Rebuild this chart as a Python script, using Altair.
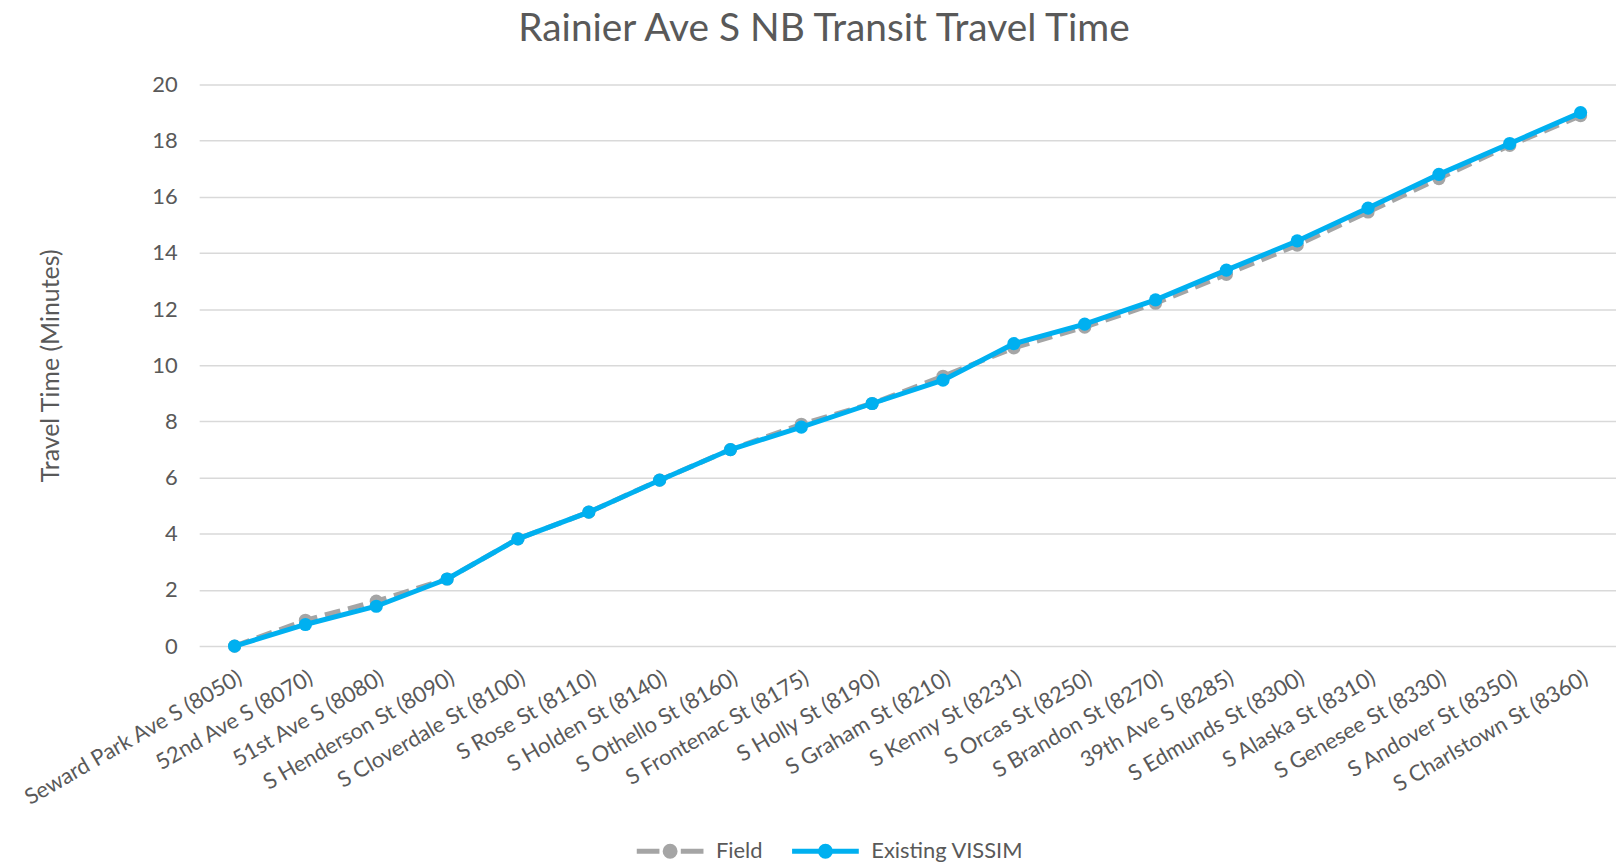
import altair as alt
import pandas as pd

stops = [
    "Seward Park Ave S (8050)", "52nd Ave S (8070)", "51st Ave S (8080)",
    "S Henderson St (8090)", "S Cloverdale St (8100)", "S Rose St (8110)",
    "S Holden St (8140)", "S Othello St (8160)", "S Frontenac St (8175)",
    "S Holly St (8190)", "S Graham St (8210)", "S Kenny St (8231)",
    "S Orcas St (8250)", "S Brandon St (8270)", "39th Ave S (8285)",
    "S Edmunds St (8300)", "S Alaska St (8310)", "S Genesee St (8330)",
    "S Andover St (8350)", "S Charlstown St (8360)",
]
field = [0, 0.92, 1.60, 2.39, 3.82, 4.77, 5.91, 7.00, 7.90, 8.64,
         9.61, 10.62, 11.36, 12.21, 13.24, 14.28, 15.46, 16.65, 17.83, 18.89]
vissim = [0, 0.77, 1.42, 2.39, 3.82, 4.77, 5.91, 7.00, 7.80, 8.64,
          9.47, 10.77, 11.47, 12.33, 13.39, 14.43, 15.60, 16.80, 17.90, 19.00]
series_names = ["Field", "Existing VISSIM"]
series_colors = ["#A5A5A5", "#00B0F0"]
y_ticks = list(range(0, 21, 2))

rows = []
for name, vals in zip(series_names, [field, vissim]):
    for s, v in zip(stops, vals):
        rows.append({"stop": s, "time": v, "series": name})
df = pd.DataFrame(rows)

FONT = "Lato"
TXT = "#595959"

# legend glyphs: line (dashed look for Field) with a solid dot, built from strokes only
dot = ("M0.0746,0A0.0746,0.0746,0,1,1,-0.0746,0A0.0746,0.0746,0,1,1,0.0746,0"
       "M0.149,0A0.149,0.149,0,1,1,-0.149,0A0.149,0.149,0,1,1,0.149,0")
legend_shapes = ["M-1,0L-0.32,0M0.32,0L1,0" + dot, "M-1,0L1,0" + dot]

legend_kw = dict(
    title=None,
    orient="none",
    legendX=437,
    legendY=734,
    direction="horizontal",
    symbolSize=4489,
    symbolStrokeWidth=5,
    symbolOpacity=1,
    labelFont=FONT,
    labelFontSize=22,
    labelColor=TXT,
    labelOffset=10,
    labelLimit=0,
    columnPadding=19,
)

x = alt.X(
    "stop:N",
    sort=stops,
    scale=alt.Scale(domain=stops, padding=0.5),
    axis=alt.Axis(
        title=None, labelAngle=-30, labelAlign="right", labelBaseline="top",
        labelPadding=21, labelFont=FONT, labelFontSize=22, labelColor=TXT,
        labelLimit=0, ticks=False, domain=False, grid=False, labelOverlap=False,
    ),
)
y = alt.Y(
    "time:Q",
    scale=alt.Scale(domain=[0, 20], nice=False),
    axis=alt.Axis(
        title="Travel Time (Minutes)", values=y_ticks, titleFont=FONT,
        titleFontSize=25, titleFontWeight="normal", titleColor=TXT,
        titlePadding=89, titleY=282,
        labelFont=FONT, labelFontSize=22, labelColor=TXT, labelPadding=22,
        ticks=False, domain=False, gridColor="#D9D9D9", gridWidth=1.5,
    ),
)

base = alt.Chart(df)
f_field = "datum.series === 'Field'"
f_vis = "datum.series === 'Existing VISSIM'"
field_line = base.transform_filter(f_field).mark_line(
    strokeWidth=5, strokeDash=[16, 8], stroke=series_colors[0]).encode(x=x, y=y)
field_pts = base.transform_filter(f_field).mark_circle(
    size=175, opacity=1, color=series_colors[0]).encode(x=x, y=y)
vis_line = base.transform_filter(f_vis).mark_line(
    strokeWidth=5, stroke=series_colors[1]).encode(x=x, y=y)
vis_pts = base.transform_filter(f_vis).mark_circle(
    size=175, opacity=1, color=series_colors[1]).encode(x=x, y=y)

# legend carrier layer (draws no marks itself)
legend_layer = base.transform_filter("false").mark_point(filled=False).encode(
    x=x, y=y,
    color=alt.Color("series:N", scale=alt.Scale(domain=series_names, range=series_colors),
                    legend=alt.Legend(**legend_kw)),
    shape=alt.Shape("series:N", scale=alt.Scale(domain=series_names, range=legend_shapes),
                    legend=alt.Legend(**legend_kw)),
)

chart = alt.layer(field_line, field_pts, vis_line, vis_pts, legend_layer).properties(
    width=1423,
    height=564,
    autosize=alt.AutoSizeParams(type="none"),
    padding={"left": 192, "top": 75, "right": 0, "bottom": 220},
    title=alt.TitleParams(
        "Rainier Ave S NB Transit Travel Time", font=FONT, fontSize=39,
        fontWeight="normal", color=TXT, anchor="middle", offset=25, dx=-84,
    ),
).configure_view(stroke=None)

chart.save("out.html", embed_options={"renderer": "svg", "actions": False})
